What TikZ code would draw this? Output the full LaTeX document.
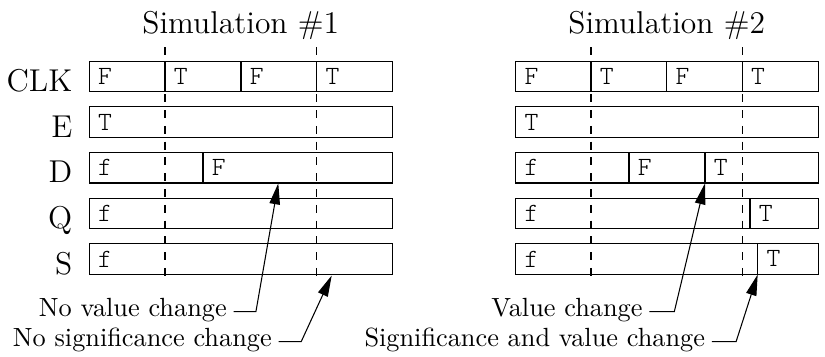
\documentclass[tikz,border=0pt]{standalone}
\usepackage{fontspec}
\newfontfamily\valuefont{Latin Modern Mono Light}
\usetikzlibrary{arrows.meta}
\begin{document}
\begin{tikzpicture}[x=0.3802pt,y=-0.3802pt,
  every node/.style={inner sep=0pt, outer sep=0pt},
  bar/.style={draw, line width=0.4pt, anchor=north west,
    minimum width=115.2pt, minimum height=11.6pt},
  cell/.style={anchor=west, inner xsep=3.4pt, font=\valuefont},
  sig/.style={anchor=base east, font=\large},
  title/.style={anchor=base, font=\large},
  note/.style={anchor=base east},
  edge/.style={line width=0.4pt},
  marker/.style={dashed, line width=0.4pt},
  pointer/.style={line width=0.4pt, -{Triangle[length=8pt,width=4pt]}}]
\useasboundingbox (0,0) rectangle (825,356);

% titles
\node[title] (t1) at (240.8,33.3) {Simulation $\#1$};
\node[title] (t2) at (666.7,33.3) {Simulation $\#2$};

% signal bars of both runs and the signal names
\foreach \n/\lbl/\y in {clk/CLK/61.3, e/E/106.9, d/D/152.5, q/Q/198.1, s/S/243.7} {
  \node[bar] (a\n) at (89.3,\y) {};
  \node[bar] (b\n) at (515.7,\y) {};
  \node[sig] (lab\n) at (72.3,\y+30.3) {\lbl};
}

% clock-edge markers
\foreach \x in {165,316.7,591,742.3}
  \draw[marker] (\x,47) -- (\x,278);

% value boundaries, run 1
\foreach \x in {165,241,316.7}
  \draw[edge] (\x,61.3) -- (\x,91.8);
\draw[edge] (203,152.5) -- (203,183);

% value boundaries, run 2
\foreach \x in {591,666.7,742.3}
  \draw[edge] (\x,61.3) -- (\x,91.8);
\draw[edge] (629,152.5) -- (629,183);
\draw[edge] (705,152.5) -- (705,183);
\draw[edge] (750,198.1) -- (750,228.6);
\draw[edge] (757.7,243.7) -- (757.7,274.2);

% values, run 1
\node[cell] (a1) at (89.3,76.5) {F};
\node[cell] (a2) at (165,76.5) {T};
\node[cell] (a3) at (241,76.5) {F};
\node[cell] (a4) at (316.7,76.5) {T};
\node[cell] (a5) at (89.3,122.1) {T};
\node[cell] (a6) at (89.3,167.7) {f};
\node[cell] (a7) at (203,167.7) {F};
\node[cell] (a8) at (89.3,213.3) {f};
\node[cell] (a9) at (89.3,258.9) {f};

% values, run 2
\node[cell] (b1) at (515.7,76.5) {F};
\node[cell] (b2) at (591,76.5) {T};
\node[cell] (b3) at (666.7,76.5) {F};
\node[cell] (b4) at (742.3,76.5) {T};
\node[cell] (b5) at (515.7,122.1) {T};
\node[cell] (b6) at (515.7,167.7) {f};
\node[cell] (b7) at (629,167.7) {F};
\node[cell] (b8) at (705,167.7) {T};
\node[cell] (b9) at (515.7,213.3) {f};
\node[cell] (b10) at (750,213.3) {T};
\node[cell] (b11) at (515.7,258.9) {f};
\node[cell] (b12) at (757.7,258.9) {T};

% annotation targets
\coordinate (tipA) at (278.3,183.3);
\coordinate (tipB) at (331.7,275.5);
\coordinate (tipC) at (705,183.3);
\coordinate (tipD) at (757.7,274.5);

% annotations
\node[note] (n1) at (226.7,316) {No value change};
\node[note] (n2) at (271.7,346) {No significance change};
\node[note] (n3) at (642.5,316) {Value change};
\node[note] (n4) at (705,346) {Significance and value change};

\draw[pointer] ([xshift=2.6pt,yshift=1.7pt]n1.base east) -- ++(22.4,0) -- (tipA);
\draw[pointer] ([xshift=2.6pt,yshift=1.7pt]n2.base east) -- ++(22.7,0) -- (tipB);
\draw[pointer] ([xshift=2.6pt,yshift=1.7pt]n3.base east) -- ++(25,0) -- (tipC);
\draw[pointer] ([xshift=2.6pt,yshift=1.7pt]n4.base east) -- ++(24.3,0) -- (tipD);
\end{tikzpicture}
\end{document}
